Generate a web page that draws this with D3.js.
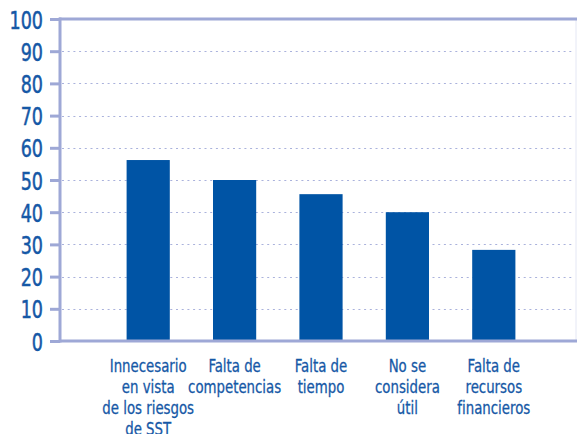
<!DOCTYPE html>
<html lang="es">
<head>
    <meta charset="UTF-8">
    <title>Chart</title>
    <script src="https://cdn.jsdelivr.net/npm/d3@7"></script>
    <style>
        body { margin: 0; background: #fff; }
        text { font-family: "DejaVu Sans Condensed", "DejaVu Sans", sans-serif; font-stretch: condensed; fill: #1558a6; }
    </style>
</head>
<body>
<script>
    var categories = [
        ['Innecesario', 'en vista', 'de los riesgos', 'de SST'],
        ['Falta de', 'competencias'],
        ['Falta de', 'tiempo'],
        ['No se', 'considera', 'útil'],
        ['Falta de', 'recursos', 'financieros']
    ]
    var values = [56.2, 50, 45.6, 40, 28.3]
    var yTicks = [0, 10, 20, 30, 40, 50, 60, 70, 80, 90, 100]

    var width = 577,
        height = 434,
        plotLeft = 60,
        plotRight = 577,
        plotTop = 19,
        plotBottom = 341,
        axisColor = '#9ea8d6',
        barColor = '#0054a5'

    var svg = d3.select('body').append('svg')
        .attr('width', width)
        .attr('height', height)

    var yScale = d3.scaleLinear().domain([0, 100]).range([plotBottom, plotTop])
    var xScale = d3.scaleBand()
        .domain(d3.range(categories.length))
        .range([105, 537])
        .paddingInner(0.5)
        .paddingOuter(0.25)

    // dotted grid
    svg.selectAll('line.grid')
        .data(yTicks.filter(d => d > 0 && d < 100))
        .enter().append('line')
        .attr('class', 'grid')
        .attr('x1', plotLeft + 2).attr('x2', plotRight - 2)
        .attr('y1', d => Math.round(yScale(d)) + 0.5)
        .attr('y2', d => Math.round(yScale(d)) + 0.5)
        .attr('stroke', '#aab2dc')
        .attr('stroke-width', 1.2)
        .attr('stroke-dasharray', '2,3.7')

    // right border
    svg.append('line')
        .attr('x1', plotRight - 1).attr('x2', plotRight - 1)
        .attr('y1', plotTop).attr('y2', plotBottom)
        .attr('stroke', '#e4e7f4')

    // bars
    svg.selectAll('rect.bar')
        .data(values)
        .enter().append('rect')
        .attr('class', 'bar')
        .attr('x', (d, i) => xScale(i))
        .attr('width', xScale.bandwidth())
        .attr('y', d => yScale(d))
        .attr('height', d => yScale(0) - yScale(d))
        .attr('fill', barColor)

    // top border and x axis
    ;[100, 0].forEach(function (v) {
        svg.append('line')
            .attr('x1', plotLeft - 1).attr('x2', plotRight)
            .attr('y1', yScale(v)).attr('y2', yScale(v))
            .attr('stroke', axisColor)
            .attr('stroke-width', 3)
    })

    // y axis
    var yAxis = svg.append('g')
        .attr('transform', 'translate(' + plotLeft + ',0)')
        .call(d3.axisLeft(yScale).tickValues(yTicks).tickSize(10).tickPadding(7))
    yAxis.select('.domain').remove()
    yAxis.selectAll('.tick line')
        .attr('stroke', axisColor)
        .attr('stroke-width', 3)
    yAxis.selectAll('.tick text')
        .attr('x', 0)
        .attr('dy', '0.36em')
        .attr('transform', 'translate(-17,0) scale(0.78,1)')
        .attr('font-size', 25)
        .attr('fill', '#1558a6')
        .attr('stroke', '#1558a6')
        .attr('stroke-width', 0.5)
        .style('font-family', '"DejaVu Sans Condensed", "DejaVu Sans", sans-serif')
    svg.append('line')
        .attr('x1', plotLeft).attr('x2', plotLeft)
        .attr('y1', plotTop - 1.5).attr('y2', plotBottom + 1.5)
        .attr('stroke', axisColor)
        .attr('stroke-width', 3)

    // category labels
    svg.selectAll('text.cat')
        .data(categories)
        .enter().append('text')
        .attr('class', 'cat')
        .attr('text-anchor', 'middle')
        .attr('font-size', 18.5)
        .attr('stroke', '#1558a6')
        .attr('stroke-width', 0.3)
        .attr('transform', (d, i) => 'translate(' + (xScale(i) + xScale.bandwidth() / 2) + ',0) scale(0.8,1)')
        .each(function (lines) {
            d3.select(this).selectAll('tspan')
                .data(lines)
                .enter().append('tspan')
                .attr('x', 0)
                .attr('y', (d, j) => 372 + j * 21)
                .text(d => d)
        })
</script>
</body>
</html>
